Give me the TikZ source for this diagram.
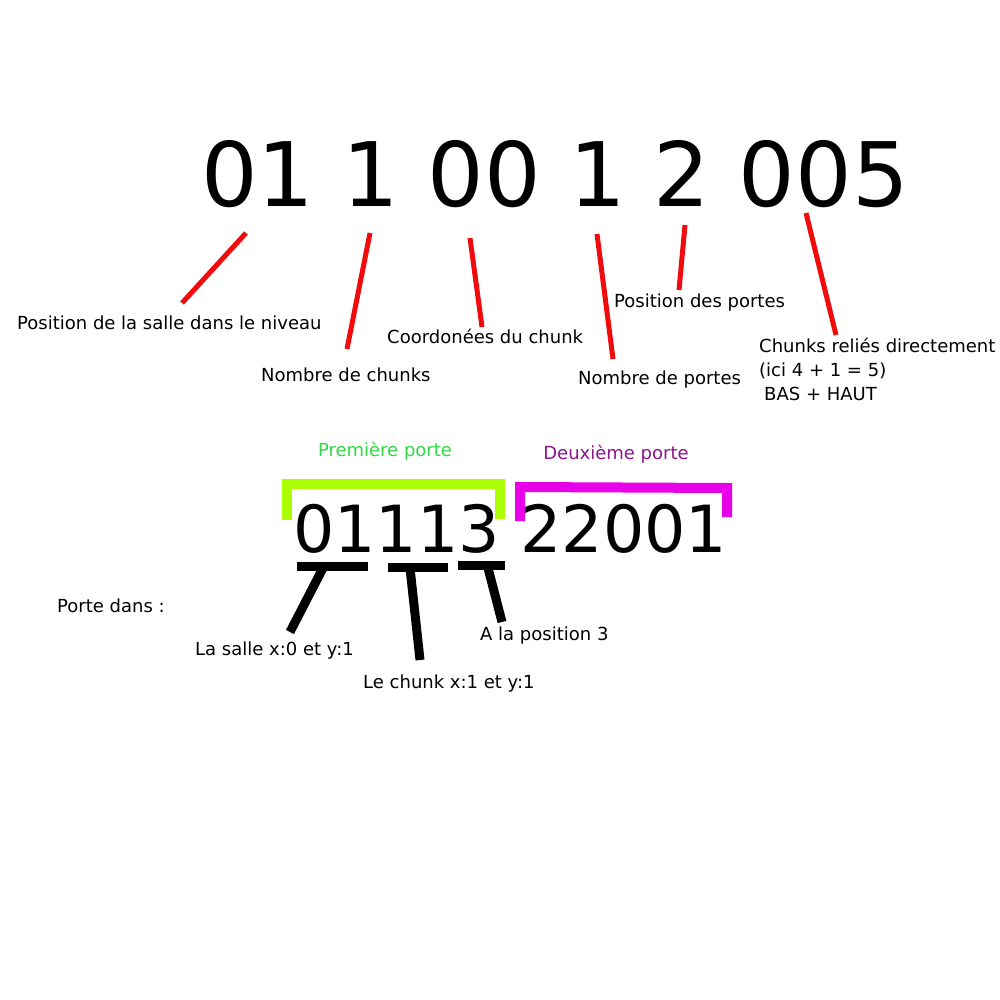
\documentclass[tikz,border=0pt]{standalone}
\usepackage{fontspec}
\setmainfont{DejaVu Sans}
\usetikzlibrary{positioning}
\definecolor{rouge}{RGB}{240,12,12}
\definecolor{vertclair}{RGB}{172,255,0}
\definecolor{vertTexte}{RGB}{50,215,70}
\definecolor{magenta2}{RGB}{232,0,232}
\definecolor{violet2}{RGB}{140,20,140}

\tikzset{
  legende/.style={anchor=base west, inner sep=0pt, font=\fontsize{18}{24}\selectfont},
  chiffres/.style={anchor=base west, inner sep=0pt},
  trait/.style={rouge, line width=5pt},
  repere/.style={black, line width=9pt},
  accolade/.style={line width=10pt}
}

\begin{document}
\begin{tikzpicture}[x=1pt, y=-1pt]
    \useasboundingbox[fill=white] (0,0) rectangle (1000,1000);

    %code de la salle
    \node (code) [chiffres, font=\fontsize{89}{89}\selectfont] at (201,207) {01 1 00 1 2 005};

    %legendes du haut
    \node (salle) [legende] at (17,329) {Position de la salle dans le niveau};
    \node (nbchunks) [legende] at (261,381) {Nombre de chunks};
    \node (coord) [legende] at (387,343) {Coordonées du chunk};
    \node (nbportes) [legende] at (578,384) {Nombre de portes};
    \node (posportes) [legende] at (614,307) {Position des portes};
    % base = derniere ligne
    \node (relies) [legende, align=left] at (759,400) {Chunks reliés directement\\(ici 4 + 1 = 5)\\\hspace*{5pt}BAS + HAUT};

    %traits rouges
    \coordinate (salleH) at (246,233);    \coordinate (salleB) at (182,303);
    \coordinate (nbchunksH) at (370,233); \coordinate (nbchunksB) at (347,349);
    \coordinate (coordH) at (470,238);    \coordinate (coordB) at (482,327);
    \coordinate (nbportesH) at (597,234); \coordinate (nbportesB) at (613,359);
    \coordinate (posportesH) at (685,225);\coordinate (posportesB) at (679,290);
    \coordinate (reliesH) at (806,213);   \coordinate (reliesB) at (836,335);

    \draw[trait] (salleH) -- (salleB);
    \draw[trait] (nbchunksH) -- (nbchunksB);
    \draw[trait] (coordH) -- (coordB);
    \draw[trait] (nbportesH) -- (nbportesB);
    \draw[trait] (posportesH) -- (posportesB);
    \draw[trait] (reliesH) -- (reliesB);

    %portes
    \node (porte1) [legende, anchor=base, text=vertTexte] at (385,456) {Première porte};
    \node (porte2) [legende, anchor=base, text=violet2] at (616,459) {Deuxième porte};
    \node (portes) [chiffres, font=\fontsize{65}{65}\selectfont] at (293,552) {01113 22001};

    \coordinate (g1) at (287,520); \coordinate (g2) at (287,484);
    \coordinate (g3) at (500,484); \coordinate (g4) at (500,519);
    \draw[accolade, vertclair] (g1) -- (g2) -- (g3) -- (g4);
    \coordinate (m1) at (520,521); \coordinate (m2) at (520,487);
    \coordinate (m3) at (727,488); \coordinate (m4) at (727,517);
    \draw[accolade, magenta2] (m1) -- (m2) -- (m3) -- (m4);

    %detail de la premiere porte
    \node (dans) [legende] at (57,612) {Porte dans :};
    \node (lasalle) [legende] at (195,655) {La salle x:0 et y:1};
    \node (lechunk) [legende] at (363,688) {Le chunk x:1 et y:1};
    \node (laposition) [legende] at (480,640) {A la position 3};

    \coordinate (t1a) at (297,566); \coordinate (t1b) at (368,566);
    \coordinate (t1h) at (323,568); \coordinate (t1s) at (290,632);
    \coordinate (t2a) at (388,567); \coordinate (t2b) at (448,567);
    \coordinate (t2h) at (410,568); \coordinate (t2s) at (420,660);
    \coordinate (t3a) at (458,565); \coordinate (t3b) at (505,565);
    \coordinate (t3h) at (488,568); \coordinate (t3s) at (502,622);

    \draw[repere] (t1a) -- (t1b);
    \draw[repere] (t1h) -- (t1s);
    \draw[repere] (t2a) -- (t2b);
    \draw[repere] (t2h) -- (t2s);
    \draw[repere] (t3a) -- (t3b);
    \draw[repere] (t3h) -- (t3s);
\end{tikzpicture}
\end{document}
